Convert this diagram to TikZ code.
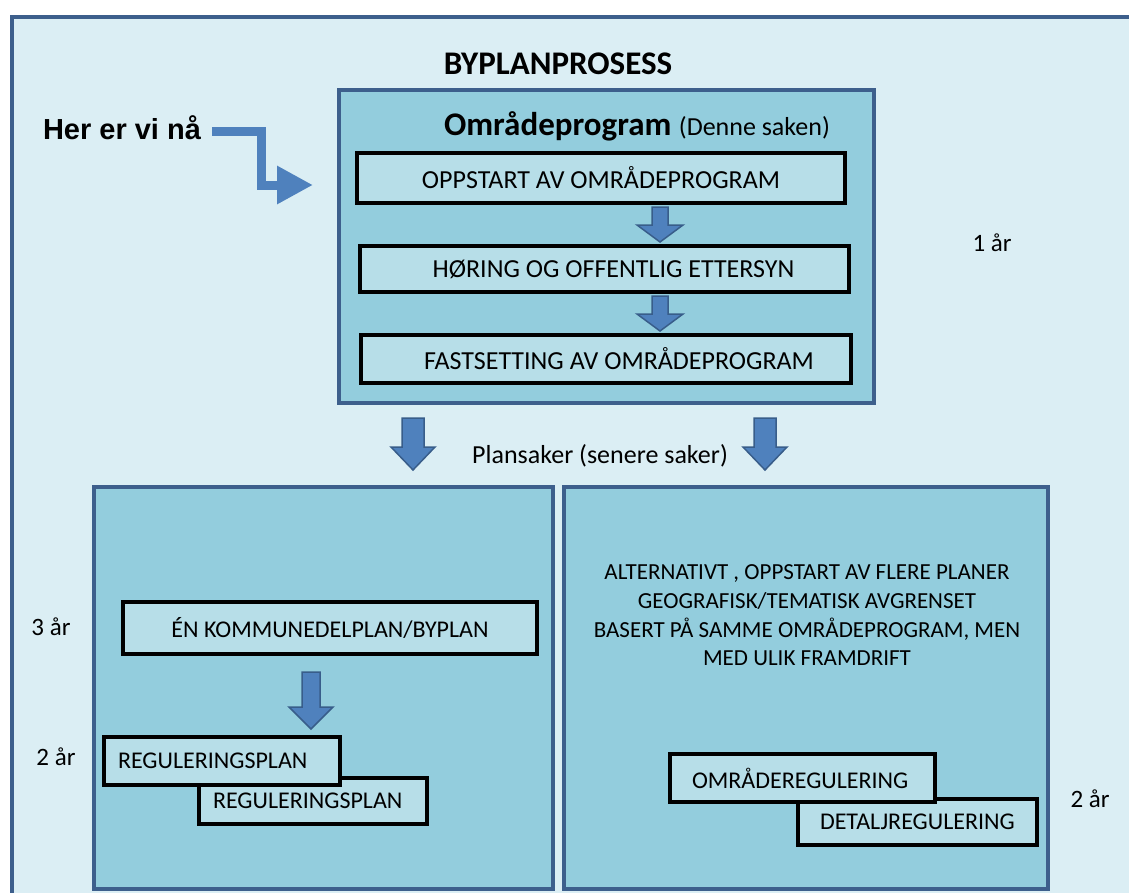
\documentclass[tikz,border=0pt]{standalone}
\usepackage{fontspec}
\setmainfont{Carlito}
\newfontfamily\arialfont{Liberation Sans}
\usetikzlibrary{arrows.meta}
\definecolor{bgblue}{HTML}{DBEEF4}
\definecolor{frameblue}{HTML}{3D5F8C}
\definecolor{midblue}{HTML}{93CDDD}
\definecolor{lightbox}{HTML}{B7DEE8}
\definecolor{arrowblue}{HTML}{4F81BD}
\definecolor{arrowedge}{HTML}{385D8A}
\newcommand\fs[1]{\fontsize{#1}{#1}\selectfont}
% block arrow: x, ytop, yhead, ytip, shaft half width, head half width
\newcommand\blockdown[6]{%
  \filldraw[blockarrow] (#1-#5,#2) -- (#1+#5,#2) -- (#1+#5,#3) -- (#1+#6,#3) -- (#1,#4) -- (#1-#6,#3) -- (#1-#5,#3) -- cycle;}
\begin{document}
\begin{tikzpicture}[x=1pt,y=-1pt,
  bigbox/.style={draw=frameblue, line width=4pt, fill=midblue, inner sep=0pt},
  innerbox/.style={draw=black, line width=4pt, fill=lightbox, inner sep=0pt},
  lbox/.style={draw=black, line width=4pt, fill=lightbox, inner ysep=0pt, align=left},
  blockarrow/.style={fill=arrowblue, draw=arrowedge, line width=1.5pt, line join=miter},
  lab/.style={inner sep=0pt, text=black}]
\useasboundingbox (0,0) rectangle (1129,892);
\fill[white] (0,0) rectangle (1129,892);
\begin{scope}
\clip (0,0) rectangle (1129,892);
\draw[frameblue, line width=4pt, fill=bgblue] (12,17) rectangle (1160,920);

% title
\node[lab] (title) at (558,64) {\fs{33}\bfseries BYPLANPROSESS};

% top process box
\node[bigbox, minimum width=535pt, minimum height=313pt] (omr) at (606.5,246.5) {};
\node[lab] (omrtitle) at (637,126) {\fs{33}\bfseries Områdeprogram \fs{26}\mdseries(Denne saken)};
\node[innerbox, minimum width=488pt, minimum height=50pt] (b1) at (601,178) {\fs{26}OPPSTART AV OMRÅDEPROGRAM};
\node[innerbox, minimum width=489pt, minimum height=46pt] (b2) at (604.5,269) {\fs{26}\hspace*{18pt}HØRING OG OFFENTLIG ETTERSYN};
\node[innerbox, minimum width=490pt, minimum height=48pt] (b3) at (606,359) {\fs{26}\hspace*{26pt}FASTSETTING AV OMRÅDEPROGRAM};
\blockdown{660}{207}{225}{242}{8}{23}
\blockdown{660}{296}{314}{331}{8}{23}

% Her er vi nå
\node[lab] (her) at (122,128) {\arialfont\fs{29}\bfseries Her er vi nå};
\coordinate (herbend) at (261,131);
\coordinate (hertip) at (313,185);
\draw[arrowblue, line width=9pt, -{Triangle[length=36pt,width=36pt]}] ([xshift=11pt]her.east |- herbend) -- (herbend) |- (hertip);

% durations
\node[lab] (y1) at (992,243) {\fs{25}1 år};
\node[lab] (y3) at (51,627) {\fs{25}3 år};
\node[lab] (y2a) at (56,757) {\fs{25}2 år};
\node[lab] (y2b) at (1090,799) {\fs{25}2 år};

% plansaker
\blockdown{413}{418}{447}{470}{11}{22}
\blockdown{765}{418}{447}{470}{11}{22}
\node[lab] (plan) at (600,456) {\fs{26}Plansaker (senere saker)};

% bottom boxes
\node[bigbox, anchor=north west, minimum width=459pt, minimum height=402pt] (left) at (92,485) {};
\node[bigbox, anchor=north west, minimum width=484pt, minimum height=402pt] (right) at (562,485) {};

\node[innerbox, minimum width=414pt, minimum height=52pt] (kdp) at (330,628) {\fs{24}ÉN KOMMUNEDELPLAN/BYPLAN};
\blockdown{311}{672}{707}{729}{9}{22}
\node[lbox, anchor=north west, text width=200pt, inner xsep=14pt, minimum height=46pt] (reg2) at (197,776) {\fs{24}REGULERINGSPLAN};
\node[lbox, anchor=north west, text width=208pt, inner xsep=14pt, minimum height=48pt] (reg1) at (102,735) {\fs{24}REGULERINGSPLAN};

\node[lab, align=center] (alt) at (807,615) {%
  \fs{23}ALTERNATIVT , OPPSTART AV FLERE PLANER\\[8.5pt]
  \fs{23}GEOGRAFISK/TEMATISK AVGRENSET\\[8.5pt]
  \fs{23}BASERT PÅ SAMME OMRÅDEPROGRAM, MEN\\[8.5pt]
  \fs{23}MED ULIK FRAMDRIFT};

\node[lbox, anchor=north west, text width=195pt, inner xsep=22pt, minimum height=46pt] (detalj) at (796,797) {\fs{24}DETALJREGULERING};
\node[lbox, anchor=north west, text width=221pt, inner xsep=22pt, minimum height=48pt] (omrreg) at (668,752) {\fs{24}OMRÅDEREGULERING};
\end{scope}
\end{tikzpicture}
\end{document}
